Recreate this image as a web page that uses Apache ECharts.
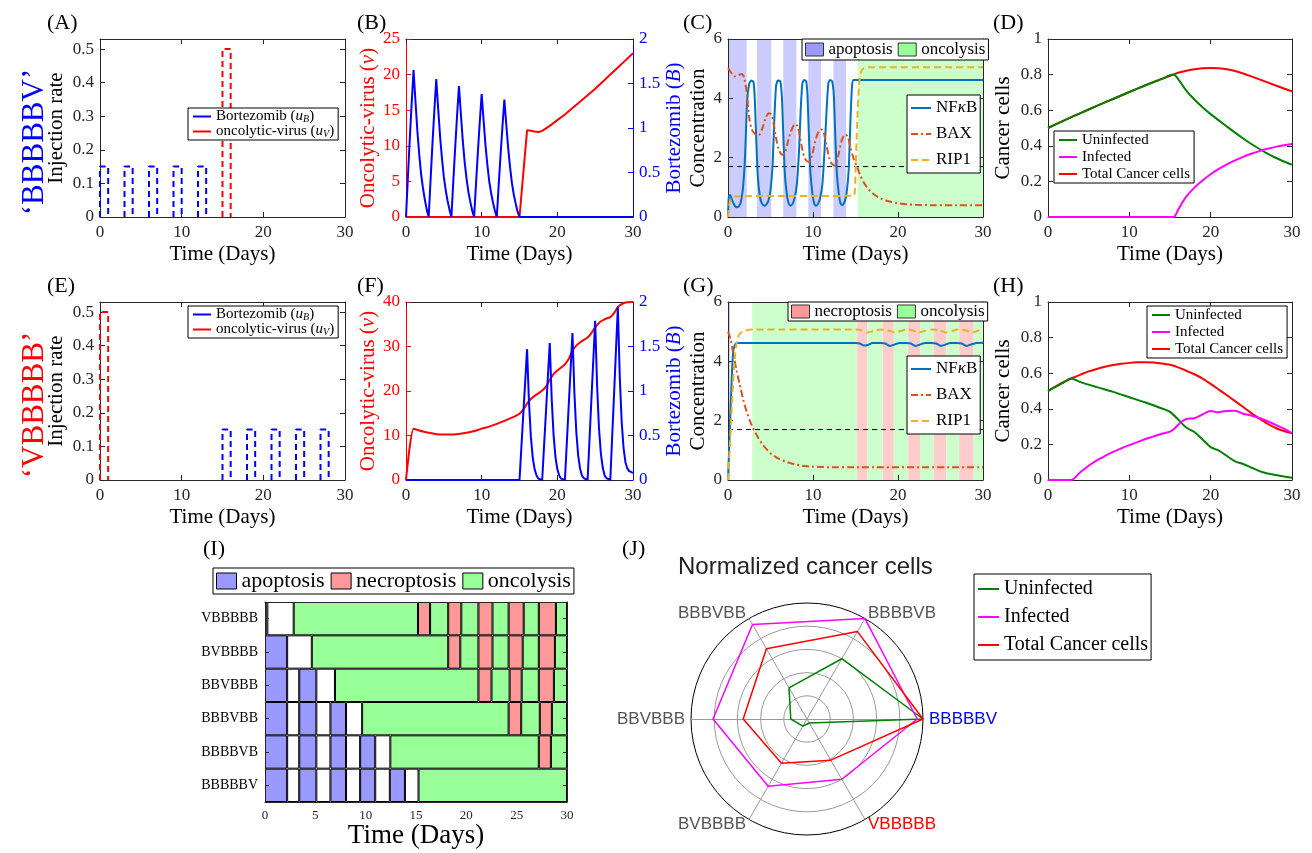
<!DOCTYPE html>
<html><head><meta charset="utf-8">
<script src="https://cdn.jsdelivr.net/npm/echarts@6/dist/echarts.min.js"></script>
<style>html,body{margin:0;padding:0;background:#fff}#c{width:1312px;height:853px}</style>
</head><body><div id="c"></div>
<script>
// ================= DATA =================
const DOSE_B_RATE = 0.15, DOSE_V_RATE = 0.5, DOSE_LEN = 1;
const A_B_START = [0, 3, 6, 9, 12];
const A_V_START = [15];
const E_B_START = [15, 18, 21, 24, 27];
const E_V_START = [0];

// Panel B
const B_VIRUS = [[0,0],[15,0],[16,12.2],[16.5,12.1],[17,12.0],[17.5,11.95],[18,12.1],[19,12.8],[20,13.6],[21,14.4],[22,15.3],[23,16.2],[24,17.1],[25,18.0],[26,19.0],[27,20.0],[28,21.0],[29,22.0],[30,23.0]];
const B_BORT = [[0,0],[0.25,0.45],[0.5,0.88],[0.75,1.28],[1,1.65],[1.25,1.3],[1.5,0.97],[1.75,0.7],[2,0.48],[2.25,0.32],[2.5,0.19],[2.75,0.08],[3,0],
[3.25,0.42],[3.5,0.83],[3.75,1.2],[4,1.55],[4.25,1.22],[4.5,0.91],[4.75,0.66],[5,0.45],[5.25,0.3],[5.5,0.18],[5.75,0.08],[6,0],
[6.25,0.4],[6.5,0.78],[6.75,1.14],[7,1.47],[7.25,1.16],[7.5,0.86],[7.75,0.62],[8,0.43],[8.25,0.28],[8.5,0.17],[8.75,0.07],[9,0],
[9.25,0.37],[9.5,0.73],[9.75,1.07],[10,1.38],[10.25,1.09],[10.5,0.81],[10.75,0.59],[11,0.4],[11.25,0.27],[11.5,0.16],[11.75,0.07],[12,0],
[12.25,0.36],[12.5,0.7],[12.75,1.02],[13,1.32],[13.25,1.04],[13.5,0.78],[13.75,0.56],[14,0.38],[14.25,0.25],[14.5,0.15],[14.75,0.06],[15,0],[30,0]];

// Panel C
const C_NFKB = [[0,0],[0.1,0.7],[0.25,0.74],[0.5,0.55],[0.75,0.4],[1,0.33],[1.25,0.35],[1.5,0.5],[1.75,0.95],[2,2.0],[2.25,3.9],[2.5,4.5],[2.75,4.6],[3,4.55],[3.15,4.0],[3.3,2.8],[3.5,1.4],[3.75,0.7],[4,0.45],[4.25,0.38],[4.5,0.42],[4.75,0.55],[5,0.9],[5.25,1.8],[5.45,3.3],[5.65,4.4],[5.85,4.6],[6.15,4.58],[6.35,4.0],[6.5,2.8],[6.7,1.4],[6.95,0.7],[7.15,0.45],[7.35,0.38],[7.6,0.45],[7.85,0.65],[8.1,1.1],[8.35,2.2],[8.55,3.6],[8.75,4.5],[8.95,4.62],[9.2,4.58],[9.35,4.1],[9.5,2.9],[9.7,1.5],[9.95,0.75],[10.15,0.45],[10.35,0.38],[10.6,0.45],[10.85,0.65],[11.1,1.1],[11.35,2.2],[11.6,3.6],[11.8,4.5],[12,4.62],[12.25,4.58],[12.45,4.1],[12.6,2.9],[12.8,1.5],[13.05,0.75],[13.25,0.45],[13.45,0.4],[13.7,0.5],[13.95,0.8],[14.2,1.6],[14.4,3.2],[14.6,4.45],[14.8,4.62],[30,4.62]];
const C_BAX = [[0,5.02],[0.4,4.85],[0.8,4.74],[1.2,4.78],[1.6,4.82],[1.9,4.7],[2.2,4.2],[2.5,3.35],[2.8,2.95],[3.2,2.8],[3.6,2.75],[4.0,2.95],[4.4,3.3],[4.8,3.5],[5.1,3.45],[5.4,3.1],[5.7,2.6],[6.0,2.25],[6.4,2.1],[6.7,2.15],[7.1,2.6],[7.5,2.95],[7.9,3.13],[8.2,3.05],[8.5,2.65],[8.8,2.2],[9.1,1.95],[9.5,1.86],[9.9,2.1],[10.3,2.6],[10.7,2.9],[11.0,2.95],[11.3,2.8],[11.6,2.4],[11.9,2.0],[12.2,1.8],[12.6,1.73],[13.0,2.1],[13.4,2.6],[13.8,2.78],[14.1,2.7],[14.4,2.35],[14.8,1.95],[15.2,1.68],[15.6,1.38],[16.0,1.15],[16.5,0.95],[17,0.8],[17.5,0.7],[18,0.62],[19,0.52],[20,0.46],[21,0.43],[22,0.41],[24,0.4],[27,0.4],[30,0.4]];
const C_RIP1 = [[0,0],[0.15,0.4],[0.3,0.58],[0.6,0.66],[1,0.7],[14.8,0.72],[15.0,1.5],[15.2,3.2],[15.4,4.4],[15.6,4.85],[15.9,5.0],[16.5,5.05],[30,5.05]];
const THRESHOLD = 1.7;

// Panel D
const D_UNINF = [[0,0.5],[2,0.543],[4,0.584],[6,0.624],[8,0.663],[10,0.702],[12,0.74],[14,0.776],[15.4,0.8],[16,0.775],[17,0.71],[18,0.66],[19,0.617],[20,0.578],[21,0.543],[22,0.508],[23,0.474],[24,0.441],[25,0.41],[26,0.382],[27,0.356],[28,0.333],[29,0.312],[30,0.294]];
const D_INF = [[0,0],[15.4,0],[16,0.04],[16.5,0.08],[17,0.115],[18,0.165],[19,0.205],[20,0.24],[21,0.27],[22,0.296],[23,0.318],[24,0.338],[25,0.355],[26,0.37],[27,0.383],[28,0.394],[29,0.403],[30,0.41]];
const D_TOTAL = [[0,0.5],[2,0.543],[4,0.584],[6,0.624],[8,0.663],[10,0.702],[12,0.74],[14,0.776],[15.4,0.8],[16,0.81],[17,0.822],[18,0.83],[19,0.835],[20,0.837],[21,0.835],[22,0.83],[23,0.82],[24,0.806],[25,0.79],[26,0.773],[27,0.756],[28,0.739],[29,0.722],[30,0.706]];

// Panel F
const F_VIRUS = [[0,0],[1,11.5],[2,11.0],[3,10.6],[4,10.3],[5,10.2],[6,10.2],[7,10.35],[8,10.6],[9,11.0],[10,11.55],[11,12.0],[12,12.6],[13,13.3],[14,14.0],[15,14.9],[15.5,15.8],[16,17.2],[16.5,18.2],[17,18.9],[17.5,19.5],[18,20.1],[18.5,21.0],[19,22.5],[19.5,23.8],[20,24.6],[20.5,25.3],[21,26.0],[21.5,27.2],[22,29.0],[22.5,30.2],[23,30.9],[23.5,31.5],[24,32.0],[24.5,33.0],[25,34.3],[25.5,35.3],[26,35.9],[26.5,36.3],[27,36.6],[27.5,37.5],[28,38.9],[28.5,39.5],[29,39.9],[30,40.0]];
const F_BORT = [[0,0],[15,0],[15.25,0.37],[15.5,0.74],[15.75,1.1],[16,1.47],[16.25,0.88],[16.5,0.49],[16.75,0.25],[17,0.12],[17.25,0.05],[17.5,0.015],[18,0],
[18.25,0.39],[18.5,0.77],[18.75,1.16],[19,1.54],[19.25,0.92],[19.5,0.51],[19.75,0.26],[20,0.12],[20.25,0.05],[20.5,0.015],[21,0],
[21.25,0.41],[21.5,0.83],[21.75,1.24],[22,1.65],[22.25,0.99],[22.5,0.55],[22.75,0.28],[23,0.13],[23.25,0.05],[23.5,0.02],[24,0],
[24.25,0.45],[24.5,0.9],[24.75,1.34],[25,1.79],[25.25,1.07],[25.5,0.59],[25.75,0.3],[26,0.14],[26.25,0.05],[26.5,0.02],[27,0],
[27.25,0.49],[27.5,0.97],[27.75,1.46],[28,1.94],[28.25,1.16],[28.5,0.66],[28.75,0.36],[29,0.2],[29.25,0.13],[29.5,0.1],[29.75,0.09],[30,0.08]];

// Panel G
const G_NFKB = [[0,0],[0.15,1.2],[0.3,2.4],[0.45,3.5],[0.6,4.3],[0.8,4.55],[1.0,4.62],[15,4.62],[15.5,4.6],[16,4.53],[16.5,4.56],[17,4.62],[18,4.62],[18.5,4.6],[19.1,4.52],[19.6,4.57],[20.2,4.62],[21,4.62],[21.5,4.6],[22.1,4.52],[22.6,4.57],[23.2,4.62],[24,4.62],[24.5,4.6],[25.1,4.52],[25.6,4.57],[26.2,4.62],[27,4.62],[27.5,4.6],[28.1,4.52],[28.6,4.57],[29.2,4.62],[30,4.63]];
const G_BAX = [[0,5.0],[0.3,4.75],[0.6,4.3],[1,3.7],[1.4,3.2],[1.8,2.7],[2.2,2.3],[2.6,1.98],[3,1.72],[3.5,1.45],[4,1.22],[4.5,1.05],[5,0.9],[5.5,0.8],[6,0.71],[7,0.6],[8,0.52],[9,0.47],[10,0.45],[11,0.44],[12,0.43],[15,0.43],[30,0.43]];
const G_RIP1 = [[0,0],[0.2,1.0],[0.4,2.2],[0.6,3.3],[0.8,4.1],[1.0,4.6],[1.3,4.9],[1.8,5.02],[3,5.07],[15,5.07],[15.7,5.05],[16.4,4.97],[17.2,5.03],[18,5.07],[18.8,5.05],[19.6,4.97],[20.4,5.03],[21,5.07],[21.7,5.05],[22.4,4.97],[23.2,5.03],[24,5.07],[24.8,5.05],[25.6,4.97],[26.4,5.03],[27,5.07],[27.9,5.05],[28.7,4.97],[29.4,5.03],[30,5.07]];

// Panel H
const H_UNINF = [[0,0.5],[1,0.525],[2,0.55],[2.8,0.57],[4,0.55],[6,0.522],[8,0.495],[10,0.465],[12,0.435],[14,0.402],[15,0.383],[16,0.34],[17,0.295],[18,0.27],[19,0.228],[20,0.185],[21,0.165],[22,0.135],[23,0.105],[24,0.09],[25,0.07],[26,0.05],[27,0.037],[28,0.028],[29,0.02],[30,0.013]];
const H_INF = [[0,0],[2.8,0],[4,0.045],[5,0.08],[6,0.11],[7,0.135],[8,0.158],[9,0.178],[10,0.196],[11,0.213],[12,0.23],[13,0.245],[14,0.26],[15,0.272],[15.5,0.287],[16,0.31],[16.5,0.33],[17,0.343],[18,0.347],[19,0.368],[20,0.388],[20.8,0.38],[21.5,0.385],[22,0.388],[23,0.389],[24,0.372],[25,0.362],[26,0.348],[27,0.33],[28,0.31],[29,0.288],[30,0.262]];
const H_TOTAL = [[0,0.5],[1,0.527],[2,0.552],[3,0.573],[4,0.592],[5,0.61],[6,0.624],[7,0.636],[8,0.646],[9,0.653],[10,0.658],[11,0.661],[12,0.662],[13,0.66],[14,0.655],[15,0.647],[16,0.633],[17,0.614],[18,0.594],[19,0.57],[20,0.54],[21,0.508],[22,0.476],[23,0.443],[24,0.41],[25,0.376],[26,0.345],[27,0.316],[28,0.292],[29,0.275],[30,0.262]];

// Panel I (cell-death modes per schedule; edges in days, kinds: a=apoptosis, n=necroptosis, o=oncolysis, w=none)
const I_ROWS = ['BBBBBV','BBBBVB','BBBVBB','BBVBBB','BVBBBB','VBBBBB'];
const I_EDGES = [
  [0,2.2,3.4,5.1,6.5,8.05,9.45,10.95,12.4,13.9,15.25,30],
  [0,2.2,3.4,5.1,6.5,8.05,9.45,10.95,12.45,27.2,28.4,30],
  [0,2.2,3.4,5.1,6.5,8.05,9.65,24.2,25.45,27.3,28.5,30],
  [0,2.2,3.4,5.1,6.95,21.2,22.5,24.3,25.5,27.2,28.7,30],
  [0,2.2,4.65,18.2,19.4,21.2,22.6,24.2,25.6,27.2,28.8,30],
  [0,0.23,2.85,15.2,16.4,18.2,19.5,21.2,22.6,24.2,25.7,27.2,28.9,30]
];
const I_KINDS = ['awawawawawo','awawawawono','awawawonono','awawononono','awonononono','awononononono'];

// Panel J (normalized cancer cells)
const J_AXES = ['BBBBBV','BBBBVB','BBBVBB','BBVBBB','BVBBBB','VBBBBB'];
const J_UNINF = [1.0, 0.6, 0.31, 0.14, 0.07, 0.04];
const J_INF   = [0.95, 1.0, 0.94, 0.81, 0.67, 0.6];
const J_TOTAL = [1.0, 0.87, 0.70, 0.55, 0.44, 0.41];

// ================= BUILD =================
const FONT = 'Liberation Serif', SANS = 'Liberation Sans', AX = '#262626';
const COL = {B:'#0000FF', V:'#FF0000', nf:'#0072BD', bax:'#D95319', rip:'#EDB120', un:'#008000', inf:'#FF00FF', tot:'#FF0000'};
const I_COL = {a:'#9999FF', n:'#FF9999', o:'#99FF99', w:'#FFFFFF'};
const BAND_COL = {a:'#CCCCFF', n:'#FFCCCC', o:'#CCFFCC'};
const grid=[], xAxis=[], yAxis=[], series=[], legend=[], graphic=[];

function rich(fs){ return { i:{fontStyle:'italic', fontFamily:FONT, fontSize:fs}, sub:{fontStyle:'italic', fontFamily:FONT, fontSize:Math.round(fs*0.65), verticalAlign:'bottom', padding:[Math.round(fs*0.35),0,0,0]} }; }

function panel(box, o){
  const gi = grid.length;
  grid.push({left:box[0], top:box[1], width:box[2], height:box[3], show:false});
  const xb = xAxis.length;
  const xbase = {gridIndex:gi, type:'value', min:0, max:30, interval:o.xi||10, splitLine:{show:false},
    axisLine:{show:true,onZero:false,lineStyle:{color:AX}}, axisTick:{show:true,inside:true,length:5,lineStyle:{color:AX}}, z:2};
  xAxis.push(Object.assign({}, xbase, {position:'bottom', axisLabel:{color:AX,fontFamily:FONT,fontSize:o.xfs||17,margin:o.xm||7},
    name:'Time (Days)', nameLocation:'middle', nameGap:o.xng||27, nameTextStyle:{color:'#000',fontFamily:FONT,fontSize:o.xnfs||21}}));
  xAxis.push(Object.assign({}, xbase, {position:'top', axisLabel:{show:false}}));
  const yl = yAxis.length;
  const lc = o.lcol||AX;
  const ylab = {color:o.lcol||AX, fontFamily:FONT, fontSize:17, margin:6};
  if (o.hideMax) ylab.showMaxLabel = false;
  yAxis.push({gridIndex:gi, type:'value', position:'left', min:0, max:o.ymax, interval:o.yi, splitLine:{show:false},
    axisLine:{show:true,onZero:false,lineStyle:{color:lc}}, axisTick:{show:true,inside:true,length:5,lineStyle:{color:lc}},
    axisLabel:ylab, name:o.yname, nameLocation:'middle', nameGap:o.yng, nameRotate:90,
    nameTextStyle:{color:o.lcol||'#000', fontFamily:FONT, fontSize:21, rich:rich(21)}, z:2});
  const yr = yAxis.length;
  if (o.y2){
    yAxis.push({gridIndex:gi, type:'value', position:'right', min:0, max:o.y2.max, interval:o.y2.yi, splitLine:{show:false},
      axisLine:{show:true,onZero:false,lineStyle:{color:o.y2.col}}, axisTick:{show:true,inside:true,length:5,lineStyle:{color:o.y2.col}},
      axisLabel:{color:o.y2.col, fontFamily:FONT, fontSize:17, margin:6}, name:o.y2.name, nameLocation:'middle', nameGap:o.y2.ng, nameRotate:90,
      nameTextStyle:{color:o.y2.col, fontFamily:FONT, fontSize:21, rich:rich(21)}, z:2});
  } else {
    yAxis.push({gridIndex:gi, type:'value', position:'right', min:0, max:o.ymax, interval:o.yi, splitLine:{show:false},
      axisLine:{show:true,onZero:false,lineStyle:{color:AX}}, axisTick:{show:true,inside:true,length:5,lineStyle:{color:AX}}, axisLabel:{show:false}, z:2});
  }
  return {gi, xb, yl, yr};
}
function line(p, name, data, color, width, type, right, extra){
  series.push(Object.assign({type:'line', name, xAxisIndex:p.xb, yAxisIndex:right?p.yr:p.yl, data, symbol:'none', showSymbol:false,
    lineStyle:{color, width, type:type||'solid'}, itemStyle:{color}, animation:false, z:3, silent:true}, extra||{}));
}
function doses(starts, rate){
  const d = [];
  starts.forEach(s => { d.push([s,0],[s,rate],[s+DOSE_LEN,rate],[s+DOSE_LEN,0],[s+DOSE_LEN,'-']); });
  return d;
}
function bands(p, row){
  const ri = I_ROWS.indexOf(row), e = I_EDGES[ri], k = I_KINDS[ri];
  const data = [];
  for (let j=0;j<k.length;j++){ if (k[j]!=='w') data.push([{xAxis:e[j], itemStyle:{color:BAND_COL[k[j]], opacity:1}}, {xAxis:e[j+1]}]); }
  series.push({type:'line', name:'_band'+p.gi, xAxisIndex:p.xb, yAxisIndex:p.yl, data:[], symbol:'none', z:1, silent:true, animation:false,
    markArea:{silent:true, data}});
}
function legendBox(o){
  return Object.assign({orient:'vertical', backgroundColor:'#fff', borderColor:'#000', borderWidth:1, borderRadius:0, padding:[1,4], itemGap:0,
    itemWidth:18, itemHeight:12, selectedMode:false, z:10}, o);
}
const LINE_ICON_STYLE = {opacity:0, borderWidth:0};

// ---- legend-only bar series for cell death modes (first, so legends use them) ----
const MODE_NAMES = {a:'apoptosis', n:'necroptosis', o:'oncolysis'};

// ---- Panel I axes ----
const gI = grid.length;
grid.push({left:265, top:602, width:302, height:200, show:false});
const IX = xAxis.length;
xAxis.push({gridIndex:gI, type:'value', position:'bottom', min:0, max:30, interval:5, splitLine:{show:false},
  axisLine:{show:true,onZero:false,lineStyle:{color:AX}}, axisTick:{inside:true,length:4,lineStyle:{color:AX}},
  axisLabel:{color:AX,fontFamily:FONT,fontSize:13,margin:7}, name:'Time (Days)', nameLocation:'middle', nameGap:18,
  nameTextStyle:{color:'#000',fontFamily:FONT,fontSize:27}, z:4});
xAxis.push({gridIndex:gI, type:'value', position:'top', min:0, max:30, interval:5, splitLine:{show:false},
  axisLine:{show:true,onZero:false,lineStyle:{color:AX}}, axisTick:{inside:true,length:4,lineStyle:{color:AX}}, axisLabel:{show:false}, z:4});
const IY = yAxis.length;
yAxis.push({gridIndex:gI, type:'category', position:'left', data:I_ROWS, axisLine:{show:true,onZero:false,lineStyle:{color:AX}},
  axisTick:{show:true,inside:true,length:4,alignWithLabel:true,lineStyle:{color:AX}}, axisLabel:{color:'#000',fontFamily:FONT,fontSize:14,margin:7}, z:4});
yAxis.push({gridIndex:gI, type:'category', position:'right', data:I_ROWS, axisLine:{show:true,onZero:false,lineStyle:{color:AX}},
  axisTick:{show:true,inside:true,length:4,alignWithLabel:true,lineStyle:{color:AX}}, axisLabel:{show:false}, z:4});

['a','n','o'].forEach(k => {
  series.push({type:'bar', name:MODE_NAMES[k], stack:'I', xAxisIndex:IX, yAxisIndex:IY, data:[], barCategoryGap:'0%',
    itemStyle:{color:I_COL[k], borderColor:'#000', borderWidth:1}, animation:false});
});
const maxSeg = Math.max(...I_KINDS.map(s=>s.length));
for (let j=0;j<maxSeg;j++){
  series.push({type:'bar', name:'_seg'+j, stack:'I', xAxisIndex:IX, yAxisIndex:IY, barCategoryGap:'0%', animation:false, silent:true,
    itemStyle:{borderColor:'#000', borderWidth:1}, z:2,
    data:I_ROWS.map((r,ri)=>{ const e=I_EDGES[ri], k=I_KINDS[ri]; if (j>=k.length) return '-';
      return {value:+(e[j+1]-e[j]).toFixed(3), itemStyle:{color:I_COL[k[j]]}}; })});
}

// ---- Panels A..H ----
const PA = panel([100,39,245,178], {ymax:0.53, yi:0.1, hideMax:true, yname:'Injection rate', yng:33});
const PB = panel([406,39,227,178], {ymax:25, yi:5, lcol:'#FF0000', yname:'Oncolytic-virus ({i|v})', yng:27,
  y2:{max:2, yi:0.5, col:'#0000FF', name:'Bortezomib ({i|B})', ng:25}});
const PC = panel([728,39,255,178], {ymax:6, yi:2, yname:'Concentration', yng:19});
const PD = panel([1048,39,244,178], {ymax:1, yi:0.2, yname:'Cancer cells', yng:34});
const PE = panel([100,302,245,178], {ymax:0.53, yi:0.1, hideMax:true, yname:'Injection rate', yng:33});
const PF = panel([406,302,227,178], {ymax:40, yi:10, lcol:'#FF0000', yname:'Oncolytic-virus ({i|v})', yng:27,
  y2:{max:2, yi:0.5, col:'#0000FF', name:'Bortezomib ({i|B})', ng:25}});
const PG = panel([728,302,255,178], {ymax:6, yi:2, yname:'Concentration', yng:19});
const PH = panel([1048,302,244,178], {ymax:1, yi:0.2, yname:'Cancer cells', yng:34});

const NB = 'Bortezomib (uB)', NV = 'oncolytic-virus (uV)';
// A
line(PA, NB, doses(A_B_START, DOSE_B_RATE), COL.B, 2, [6,4]);
line(PA, NV, doses(A_V_START, DOSE_V_RATE), COL.V, 2, [6,4]);
// B
line(PB, 'v_B', B_VIRUS, COL.V, 2);
line(PB, 'B_B', B_BORT, COL.B, 2, 'solid', true);
// C
bands(PC, 'BBBBBV');
line(PC, 'thrC', [[0,THRESHOLD],[30,THRESHOLD]], '#000', 1, [5,4]);
line(PC, 'NFκB', C_NFKB, COL.nf, 2, 'solid', false, {smooth:0.2});
line(PC, 'BAX', C_BAX, COL.bax, 2, [7,3,2,3], false, {smooth:0.3});
line(PC, 'RIP1', C_RIP1, COL.rip, 2, [7,4], false, {smooth:0.2});
// D
line(PD, 'Total Cancer cells', D_TOTAL, COL.tot, 2, 'solid', false, {smooth:0.3});
line(PD, 'Uninfected', D_UNINF, COL.un, 2, 'solid', false, {smooth:0.3});
line(PD, 'Infected', D_INF, COL.inf, 2, 'solid', false, {smooth:0.3});
// E
line(PE, NB, doses(E_B_START, DOSE_B_RATE), COL.B, 2, [6,4]);
line(PE, NV, doses(E_V_START, DOSE_V_RATE), COL.V, 2, [6,4]);
// F
line(PF, 'v_F', F_VIRUS, COL.V, 2, 'solid', false, {smooth:0.2});
line(PF, 'B_F', F_BORT, COL.B, 2, 'solid', true);
// G
bands(PG, 'VBBBBB');
line(PG, 'thrG', [[0,THRESHOLD],[30,THRESHOLD]], '#000', 1, [5,4]);
line(PG, 'NFκB', G_NFKB, COL.nf, 2, 'solid', false, {smooth:0.2});
line(PG, 'BAX', G_BAX, COL.bax, 2, [7,3,2,3], false, {smooth:0.3});
line(PG, 'RIP1', G_RIP1, COL.rip, 2, [7,4], false, {smooth:0.2});
// H
line(PH, 'Total Cancer cells', H_TOTAL, COL.tot, 2, 'solid', false, {smooth:0.3});
line(PH, 'Uninfected', H_UNINF, COL.un, 2, 'solid', false, {smooth:0.3});
line(PH, 'Infected', H_INF, COL.inf, 2, 'solid', false, {smooth:0.3});

// J radar
series.push({type:'radar', radarIndex:0, symbol:'none', silent:true, animation:false, z:3,
  data:[
    {name:'Uninfected', value:J_UNINF, lineStyle:{color:COL.un, width:1.5}, itemStyle:{color:COL.un}},
    {name:'Infected', value:J_INF, lineStyle:{color:COL.inf, width:1.5}, itemStyle:{color:COL.inf}},
    {name:'Total Cancer cells', value:J_TOTAL, lineStyle:{color:COL.tot, width:1.5}, itemStyle:{color:COL.tot}}
  ]});

// ---- legends ----
const LBL = {}; LBL[NB] = 'Bortezomib ({i|u}{sub|B})'; LBL[NV] = 'oncolytic-virus ({i|u}{sub|V})'; LBL['NFκB'] = 'NF{i|κ}B';
const fmt = n => LBL[n] || n;
legend.push(legendBox({left:188, top:108, data:[NB,NV], formatter:fmt, lineStyle:{type:'solid'}, itemStyle:LINE_ICON_STYLE, itemHeight:14,
  textStyle:{fontFamily:FONT, fontSize:15, lineHeight:15, color:'#000', rich:rich(15)}}));
legend.push(legendBox({left:188, top:306, data:[NB,NV], formatter:fmt, lineStyle:{type:'solid'}, itemStyle:LINE_ICON_STYLE, itemHeight:14,
  textStyle:{fontFamily:FONT, fontSize:15, lineHeight:15, color:'#000', rich:rich(15)}}));
legend.push(legendBox({left:802, top:39, orient:'horizontal', data:['apoptosis','oncolysis'], icon:'rect', itemWidth:18, itemHeight:13, itemGap:5, padding:[2,3],
  itemStyle:{borderColor:'#333', borderWidth:1}, textStyle:{fontFamily:FONT, fontSize:17, color:'#000'}}));
legend.push(legendBox({left:788, top:302, orient:'horizontal', data:['necroptosis','oncolysis'], icon:'rect', itemWidth:18, itemHeight:13, itemGap:5, padding:[1,3],
  itemStyle:{borderColor:'#333', borderWidth:1}, textStyle:{fontFamily:FONT, fontSize:17, color:'#000'}}));
legend.push(legendBox({left:907, top:95, data:['NFκB','BAX','RIP1'], formatter:fmt, itemStyle:LINE_ICON_STYLE, itemWidth:20, itemGap:6, padding:[3,3],
  textStyle:{fontFamily:FONT, fontSize:17, lineHeight:20, color:'#000', rich:rich(17)}}));
legend.push(legendBox({left:907, top:356, data:['NFκB','BAX','RIP1'], formatter:fmt, itemStyle:LINE_ICON_STYLE, itemWidth:20, itemGap:6, padding:[3,3],
  textStyle:{fontFamily:FONT, fontSize:17, lineHeight:20, color:'#000', rich:rich(17)}}));
legend.push(legendBox({left:1054, top:131, data:['Uninfected','Infected','Total Cancer cells'], itemStyle:LINE_ICON_STYLE, itemGap:1,
  textStyle:{fontFamily:FONT, fontSize:15, lineHeight:16, color:'#000'}}));
legend.push(legendBox({left:1147, top:306, data:['Uninfected','Infected','Total Cancer cells'], itemStyle:LINE_ICON_STYLE, itemGap:1,
  textStyle:{fontFamily:FONT, fontSize:15, lineHeight:16, color:'#000'}}));
legend.push(legendBox({left:213, top:568, orient:'horizontal', data:['apoptosis','necroptosis','oncolysis'], icon:'rect', itemWidth:20, itemHeight:16, itemGap:6, padding:[2,3],
  itemStyle:{borderColor:'#000', borderWidth:1}, textStyle:{fontFamily:FONT, fontSize:22, color:'#000'}}));
legend.push(legendBox({left:974, top:574, data:['Uninfected','Infected','Total Cancer cells'], itemStyle:LINE_ICON_STYLE, itemWidth:21, itemGap:2, padding:[2,3],
  textStyle:{fontFamily:FONT, fontSize:20, lineHeight:26, color:'#000'}}));

// ---- texts ----
const PANEL_TAGS = [['(A)',47,12],['(B)',357,12],['(C)',683,12],['(D)',993,12],['(E)',47,275],['(F)',357,275],['(G)',683,275],['(H)',993,275],['(I)',203,538],['(J)',622,538]];
PANEL_TAGS.forEach(t => graphic.push({type:'text', left:t[1], top:t[2], silent:true, style:{text:t[0], font:'22px "Liberation Serif"', fill:'#000'}}));
graphic.push({type:'text', x:35, y:142, rotation:Math.PI/2, silent:true, style:{text:'‘BBBBBV’', font:'31px "Liberation Serif"', fill:'#0000FF', align:'center', verticalAlign:'middle'}});
graphic.push({type:'text', x:35, y:405, rotation:Math.PI/2, silent:true, style:{text:'‘VBBBBB’', font:'31px "Liberation Serif"', fill:'#FF0000', align:'center', verticalAlign:'middle'}});

const J_COLORS = ['#0000FF','#555555','#555555','#555555','#555555','#FF0000'];
const option = {
  animation:false,
  textStyle:{fontFamily:FONT},
  title:{text:'Normalized cancer cells', left:678, top:555, textStyle:{fontFamily:SANS, fontSize:24, fontWeight:'normal', color:'#222'}, padding:0},
  grid, xAxis, yAxis, legend, graphic, series,
  radar:{center:[807,719], radius:116, startAngle:0, shape:'circle', splitNumber:5, nameGap:6,
    indicator:J_AXES.map((n,i)=>({name:n, min:0, max:1, color:J_COLORS[i]})),
    axisName:{fontFamily:SANS, fontSize:17, color:'#555'},
    splitLine:{lineStyle:{color:['#999','#999','#999','#999','#999','#000'], width:1}},
    splitArea:{show:false}, axisLine:{lineStyle:{color:'#999'}}, axisTick:{show:false}, axisLabel:{show:false}}
};
const chart = echarts.init(document.getElementById('c'), null, {renderer:'canvas', width:1312, height:853});
chart.setOption(option);
</script></body></html>
